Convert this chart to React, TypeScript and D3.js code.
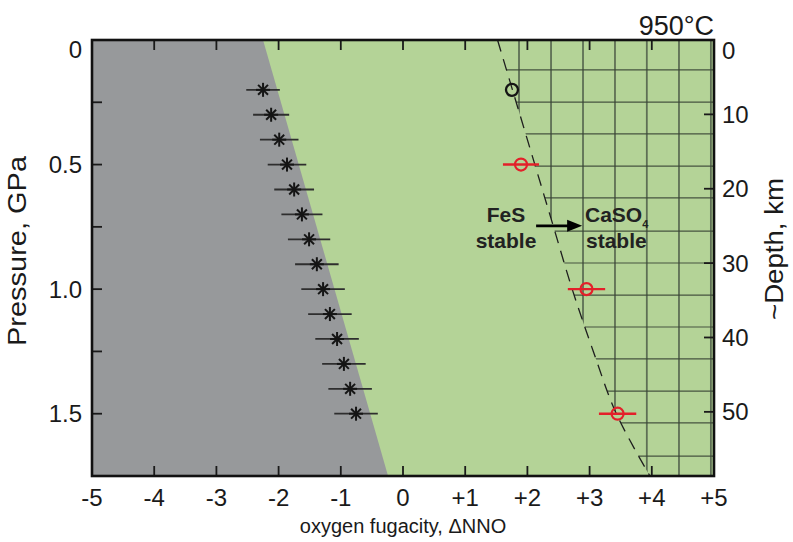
import React from "react";
import * as d3 from "d3";

// ---- data ----
const xTicks = [-5, -4, -3, -2, -1, 0, 1, 2, 3, 4, 5];
const xTickLabels = ["-5", "-4", "-3", "-2", "-1", "0", "+1", "+2", "+3", "+4", "+5"];
const pTicksMinor = [0.25, 0.5, 0.75, 1.0, 1.25, 1.5];
const pTickLabels = [0, 0.5, 1.0, 1.5];
const depthTicks = [0, 10, 20, 30, 40, 50];
const kmPerGPa = 33.5;

// reduced (gray) field boundary: [fO2, P]
const grayBoundary: [number, number][] = [[-2.25, 0], [-0.24, 1.75]];

// FeS / CaSO4 boundary (dashed): [P, fO2]
const sulfateBoundary: [number, number][] = [
  [0, 1.52], [0.2, 1.76], [0.5, 2.12], [0.75, 2.42], [1.0, 2.72], [1.25, 3.06], [1.5, 3.43], [1.75, 3.97],
];

// grid in sulfate field
const gridX = [1.865, 2.38, 2.894, 3.408, 3.92, 4.437, 4.95];
const gridP = [0.12, 0.249, 0.377, 0.506, 0.634, 0.767, 0.895, 1.024, 1.152, 1.28, 1.409, 1.537, 1.67];

// star data (pressure, fO2, error)
const starP = [0.2, 0.3, 0.4, 0.5, 0.6, 0.7, 0.8, 0.9, 1.0, 1.1, 1.2, 1.3, 1.4, 1.5];
const starX = [-2.25, -2.12, -1.99, -1.865, -1.75, -1.625, -1.51, -1.385, -1.285, -1.175, -1.06, -0.95, -0.85, -0.755];
const starErr = [0.27, 0.29, 0.31, 0.31, 0.32, 0.33, 0.34, 0.35, 0.35, 0.35, 0.35, 0.35, 0.35, 0.35];

// red circles
const redP = [0.5, 1.0, 1.5];
const redX = [1.897, 2.95, 3.45];
const redErr = [0.29, 0.3, 0.3];

// black open circle
const blackP = [0.2];
const blackX = [1.752];

// arrow annotation [fromX, toX, P]
const arrowFrom = 2.14;
const arrowTo = 2.88;
const arrowP = 0.746;

const W = 793;
const H = 542;
const FONT = "'Liberation Sans', Arial, Helvetica, sans-serif";

export default function App() {
  const x = d3.scaleLinear().domain([-5, 5]).range([92, 714]);
  const y = d3.scaleLinear().domain([0, 1.75]).range([40, 476]);
  const yD = d3.scaleLinear().domain([0, 1.75 * kmPerGPa]).range([40, 476]);
  const [x0, x1] = x.range();
  const [y0, y1] = y.range();

  const grayPoly = [
    [x(-5), y(0)],
    [x(grayBoundary[0][0]), y(grayBoundary[0][1])],
    [x(grayBoundary[1][0]), y(grayBoundary[1][1])],
    [x(-5), y(1.75)],
  ];

  const curve = d3
    .line<[number, number]>()
    .x((d) => x(d[1]))
    .y((d) => y(d[0]))
    .curve(d3.curveCatmullRom);
  const dashPath = curve(sulfateBoundary) || "";
  const clipPath = dashPath + `L${x(5)},${y(1.75)}L${x(5)},${y(0)}Z`;

  const starR = 7;
  const starArms = [0, 45, 90, 135].map((a) => (a * Math.PI) / 180);

  return (
    <svg width={W} height={H} style={{ position: "absolute", left: 0, top: 0, background: "#fff" }} fontFamily={FONT}>
      <defs>
        <clipPath id="sulf">
          <path d={clipPath} />
        </clipPath>
      </defs>
      {/* green background */}
      <rect x={x0} y={y0} width={x1 - x0} height={y1 - y0} fill="#b4d397" />
      {/* gray field */}
      <polygon points={grayPoly.map((p) => p.join(",")).join(" ")} fill="#97999b" />
      {/* grid in sulfate field */}
      <g clipPath="url(#sulf)">
        {gridX.map((g, i) => (
          <line key={"gx" + i} x1={x(g)} x2={x(g)} y1={y0} y2={y1} stroke="#4f5d49" strokeWidth={1.8} opacity={0.85} />
        ))}
        {gridP.map((g, i) => (
          <line key={"gp" + i} x1={x0} x2={x1} y1={y(g)} y2={y(g)} stroke="#3a4636" strokeWidth={1.2} opacity={0.9} />
        ))}
      </g>
      {/* dashed boundary */}
      <path d={dashPath} fill="none" stroke="#1e1e1e" strokeWidth={1.3} strokeDasharray="12,8" />

      {/* stars with error bars */}
      {starP.map((p, i) => {
        const cx = x(starX[i]);
        const cy = y(p);
        return (
          <g key={"s" + i}>
            <line x1={x(starX[i] - starErr[i])} x2={x(starX[i] + starErr[i])} y1={cy} y2={cy} stroke="#2e2e2e" strokeWidth={1.8} />
            {starArms.map((a, j) => (
              <line
                key={j}
                x1={cx - starR * Math.cos(a)}
                x2={cx + starR * Math.cos(a)}
                y1={cy - starR * Math.sin(a)}
                y2={cy + starR * Math.sin(a)}
                stroke="#151515"
                strokeWidth={2}
              />
            ))}
          </g>
        );
      })}

      {/* red circles */}
      {redP.map((p, i) => (
        <g key={"r" + i}>
          <line x1={x(redX[i] - redErr[i])} x2={x(redX[i] + redErr[i])} y1={y(p)} y2={y(p)} stroke="#e3202a" strokeWidth={2.4} />
          <circle cx={x(redX[i])} cy={y(p)} r={6} fill="none" stroke="#e3202a" strokeWidth={2.2} />
        </g>
      ))}
      {/* black circle */}
      {blackP.map((p, i) => (
        <circle key={"b" + i} cx={x(blackX[i])} cy={y(p)} r={6} fill="none" stroke="#151515" strokeWidth={2.3} />
      ))}

      {/* annotation */}
      <line x1={x(arrowFrom)} x2={x(arrowTo) - 12} y1={y(arrowP)} y2={y(arrowP)} stroke="#000" strokeWidth={2.8} />
      <polygon
        points={`${x(arrowTo)},${y(arrowP)} ${x(arrowTo) - 15},${y(arrowP) - 6} ${x(arrowTo) - 15},${y(arrowP) + 6}`}
        fill="#000"
      />
      <g fontWeight="bold" fontSize={21} fill="#222">
        <text x={506} y={222} textAnchor="middle">FeS</text>
        <text x={506} y={248} textAnchor="middle">stable</text>
        <text x={585} y={222}>CaSO<tspan fontSize={11} dy={6}>4</tspan></text>
        <text x={586} y={248}>stable</text>
      </g>

      {/* ticks */}
      <g stroke="#1a1a1a" strokeWidth={1.8}>
        {xTicks.slice(1, -1).map((t) => (
          <g key={"xt" + t}>
            <line x1={x(t)} x2={x(t)} y1={y1} y2={y1 - 10} />
            <line x1={x(t)} x2={x(t)} y1={y0} y2={y0 + 10} />
          </g>
        ))}
        {pTicksMinor.map((t) => (
          <line key={"pt" + t} x1={x0} x2={x0 + 10} y1={y(t)} y2={y(t)} />
        ))}
        {depthTicks.slice(1).map((t) => (
          <line key={"dt" + t} x1={x1} x2={x1 - 10} y1={yD(t)} y2={yD(t)} />
        ))}
      </g>
      {/* frame */}
      <rect x={x0} y={y0} width={x1 - x0} height={y1 - y0} fill="none" stroke="#111" strokeWidth={2.6} />

      {/* tick labels */}
      <g fontSize={24} fill="#1a1a1a">
        {xTicks.map((t, i) => (
          <text key={"xl" + t} x={x(t)} y={506} textAnchor="middle">{xTickLabels[i]}</text>
        ))}
        {pTickLabels.map((t) => (
          <text key={"pl" + t} x={82} y={y(t) + (t === 0 ? 9 : 0)} textAnchor="end" dominantBaseline="central">
            {t === 0 ? "0" : t.toFixed(1)}
          </text>
        ))}
        {depthTicks.map((t) => (
          <text key={"dl" + t} x={722} y={yD(t) + (t === 0 ? 10 : 0)} dominantBaseline="central">{t}</text>
        ))}
      </g>

      {/* axis titles */}
      <text x={403} y={533} textAnchor="middle" fontSize={20} fill="#1a1a1a">oxygen fugacity, ΔNNO</text>
      <text transform={`translate(26,251) rotate(-90)`} textAnchor="middle" fontSize={26} fill="#1a1a1a"
        textLength={190} lengthAdjust="spacingAndGlyphs">Pressure, GPa</text>
      <text transform={`translate(783,249) rotate(-90)`} textAnchor="middle" fontSize={26} fill="#1a1a1a"
        textLength={142} lengthAdjust="spacingAndGlyphs">~Depth, km</text>
      <text x={714} y={35} textAnchor="end" fontSize={27} fill="#1a1a1a">950°C</text>
    </svg>
  );
}
